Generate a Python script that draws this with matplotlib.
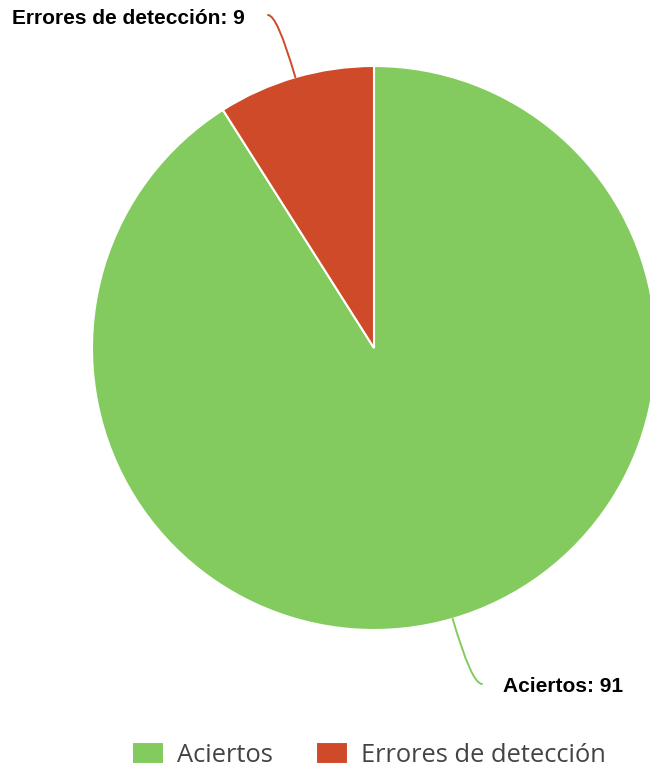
import numpy as np
import matplotlib.pyplot as plt

labels = ['Aciertos', 'Errores de detección']
values = [91, 9]
colors = ['#83CB5E', '#CF4A28']

W, H = 650, 771
cx, cy, r = 374, H - 348, 282   # centro y radio en pixeles

fig = plt.figure(figsize=(W/100, H/100), dpi=100)
ax = fig.add_axes([0, 0, 1, 1])

wedges, _ = ax.pie(values, colors=colors, startangle=90, counterclock=False,
                   center=(cx, cy), radius=r,
                   wedgeprops=dict(edgecolor='white', linewidth=1.5))
ax.set_xlim(0, W)
ax.set_ylim(0, H)
ax.set_aspect('equal')
ax.axis('off')

# etiquetas con lineas guia
ends = [(482, H - 684), (268, H - 15)]
for w, lab, v, col, (ex, ey) in zip(wedges, labels, values, colors, ends):
    ang = (w.theta1 + w.theta2) / 2
    px = cx + r * np.cos(np.radians(ang))
    py = cy + r * np.sin(np.radians(ang))
    ax.annotate('', xy=(px, py), xytext=(ex, ey),
                arrowprops=dict(arrowstyle='-', color=col, lw=1.4,
                                shrinkA=0, shrinkB=0,
                                connectionstyle='angle3,angleA=0,angleB=%f' % ang))
    if ex > cx:
        ax.text(ex + 21, ey - 3, '%s: %d' % (lab, v), ha='left', va='center',
                fontsize=15, fontweight='bold', family='Liberation Sans')
    else:
        ax.text(ex - 23, ey - 4, '%s: %d' % (lab, v), ha='right', va='center',
                fontsize=15, fontweight='bold', family='Liberation Sans')

leg = fig.legend(wedges, labels, loc='center', bbox_to_anchor=(369/W, 1 - 755/H),
                 ncol=2, frameon=False,
                 handlelength=1.25, handleheight=0.94, handletextpad=0.5,
                 columnspacing=1.7, prop={'family': 'Open Sans', 'size': 18.4})
for t in leg.get_texts():
    t.set_color('#444444')

plt.savefig('out.png', dpi=100)
